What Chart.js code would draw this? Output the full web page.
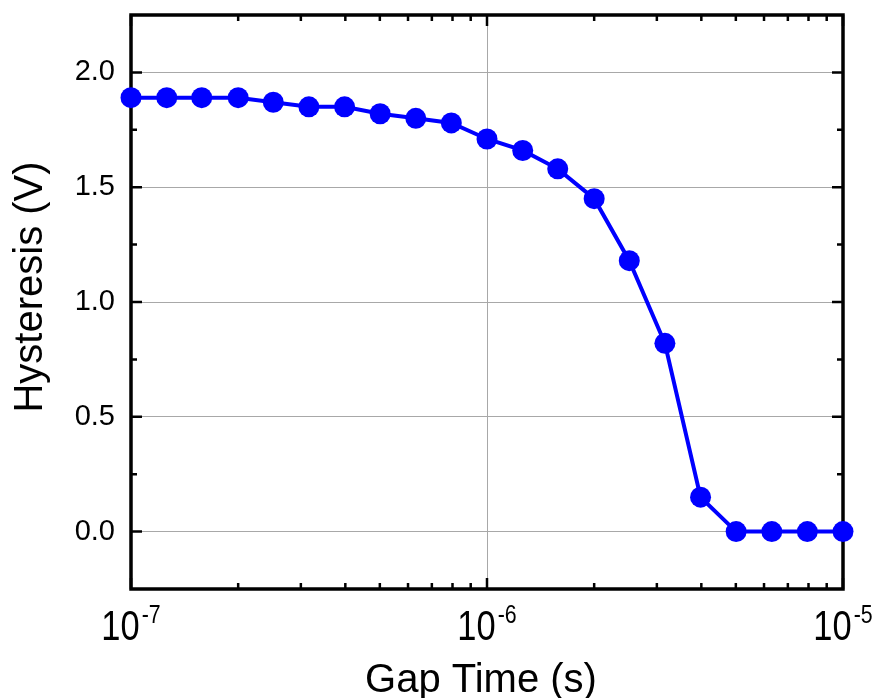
<!DOCTYPE html>
<html>
<head>
<title>Hysteresis vs Gap Time</title>
<script src="https://cdn.jsdelivr.net/npm/chart.js"></script>
<style>
  body { margin: 0; background: #fff; }
  #wrap { width: 882px; height: 698px; }
</style>
</head>
<body>
<div id="wrap"><canvas id="chart" width="882" height="698"></canvas></div>
<script>
// measured hysteresis (V) against gap time (s), ten points per decade
const gapTime = [1.0e-7, 1.26e-7, 1.58e-7, 2.0e-7, 2.51e-7, 3.16e-7, 3.98e-7, 5.01e-7, 6.31e-7, 7.94e-7,
                 1.0e-6, 1.26e-6, 1.58e-6, 2.0e-6, 2.51e-6, 3.16e-6, 3.98e-6, 5.01e-6, 6.31e-6, 7.94e-6, 1.0e-5];
const hysteresis = [1.89, 1.89, 1.89, 1.89, 1.87, 1.85, 1.85, 1.82, 1.80, 1.78,
                    1.71, 1.66, 1.58, 1.45, 1.18, 0.82, 0.15, 0, 0, 0, 0];

const yTicks = [0, 0.5, 1.0, 1.5, 2.0];
const yMinorTicks = [0.25, 0.75, 1.25, 1.75];
const xTicks = [1e-7, 1e-6, 1e-5];
const xExponents = ['-7', '-6', '-5'];
const xMinorMantissa = [2, 3, 4, 5, 6, 7, 8, 9];
const xDecades = [1e-7, 1e-6];

const FONT = "'Liberation Sans', Arial, sans-serif";

// box frame with inward ticks, drawn under the data points
const framePlugin = {
  id: 'frame',
  beforeDatasetsDraw(chart) {
    const ctx = chart.ctx;
    const a = chart.chartArea;
    const x = chart.scales.x, y = chart.scales.y;
    ctx.save();
    ctx.strokeStyle = '#000';
    ctx.lineWidth = 2.5;
    ctx.beginPath();
    yTicks.forEach(v => {
      const py = y.getPixelForValue(v);
      ctx.moveTo(a.left, py); ctx.lineTo(a.left + 11, py);
      ctx.moveTo(a.right, py); ctx.lineTo(a.right - 11, py);
    });
    yMinorTicks.forEach(v => {
      const py = y.getPixelForValue(v);
      ctx.moveTo(a.left, py); ctx.lineTo(a.left + 6, py);
      ctx.moveTo(a.right, py); ctx.lineTo(a.right - 6, py);
    });
    xTicks.forEach(v => {
      const px = x.getPixelForValue(v);
      ctx.moveTo(px, a.top); ctx.lineTo(px, a.top + 11);
      ctx.moveTo(px, a.bottom); ctx.lineTo(px, a.bottom - 11);
    });
    xDecades.forEach(d => {
      xMinorMantissa.forEach(m => {
        const px = x.getPixelForValue(m * d);
        ctx.moveTo(px, a.top); ctx.lineTo(px, a.top + 6);
        ctx.moveTo(px, a.bottom); ctx.lineTo(px, a.bottom - 6);
      });
    });
    ctx.stroke();
    ctx.lineWidth = 3.5;
    ctx.strokeRect(a.left, a.top, a.right - a.left, a.bottom - a.top);
    ctx.restore();
  },
  afterDraw(chart) {
    const ctx = chart.ctx;
    const x = chart.scales.x;
    ctx.save();
    ctx.fillStyle = '#000';
    // power-of-ten labels, narrow face
    const sx = 0.82;
    xTicks.forEach((v, i) => {
      const px = x.getPixelForValue(v);
      ctx.font = '42px ' + FONT;
      const wBase = ctx.measureText('10').width * sx;
      ctx.font = '26px ' + FONT;
      const wExp = ctx.measureText(xExponents[i]).width * sx;
      const gap = 2;
      const left = px - (wBase + gap + wExp) / 2;
      ctx.save();
      ctx.translate(left, 640);
      ctx.scale(sx, 1);
      ctx.textAlign = 'left';
      ctx.textBaseline = 'alphabetic';
      ctx.font = '42px ' + FONT;
      ctx.fillText('10', 0, 0);
      ctx.restore();
      ctx.save();
      ctx.translate(left + wBase + gap, 623);
      ctx.scale(sx, 1);
      ctx.font = '26px ' + FONT;
      ctx.fillText(xExponents[i], 0, 0);
      ctx.restore();
    });
    // axis titles
    ctx.font = '40px ' + FONT;
    ctx.textAlign = 'center';
    ctx.textBaseline = 'alphabetic';
    ctx.fillText('Gap Time (s)', 481, 692);
    ctx.save();
    ctx.translate(42, 287);
    ctx.rotate(-Math.PI / 2);
    ctx.fillText('Hysteresis (V)', 0, 0);
    ctx.restore();
    ctx.restore();
  }
};

const chart = new Chart(document.getElementById('chart'), {
  type: 'line',
  data: {
    datasets: [{
      data: gapTime.map((t, i) => ({ x: t, y: hysteresis[i] })),
      borderColor: '#0000ff',
      backgroundColor: '#0000ff',
      borderWidth: 4,
      pointRadius: 10.5,
      pointBorderWidth: 0,
      pointBackgroundColor: '#0000ff',
      pointHoverRadius: 10.5,
      tension: 0,
      clip: false
    }]
  },
  options: {
    responsive: false,
    animation: false,
    events: [],
    layout: { padding: { top: 15, right: 39, left: 0, bottom: 0 } },
    plugins: { legend: { display: false }, tooltip: { enabled: false } },
    scales: {
      x: {
        type: 'logarithmic',
        min: 1e-7,
        max: 1e-5,
        afterBuildTicks: s => { s.ticks = xTicks.map(v => ({ value: v, major: true })); },
        afterFit: s => { s.height = 109; s.paddingLeft = 0; s.paddingRight = 0; },
        ticks: { display: false },
        grid: { color: '#a8a8a8', lineWidth: 1, drawTicks: false },
        border: { display: false }
      },
      y: {
        type: 'linear',
        min: -0.25,
        max: 2.25,
        afterBuildTicks: s => { s.ticks = yTicks.map(v => ({ value: v })); },
        afterFit: s => { s.width = 131; s.paddingTop = 0; s.paddingBottom = 0; },
        ticks: {
          color: '#000',
          padding: 16,
          font: { family: FONT, size: 29 },
          callback: v => v.toFixed(1)
        },
        grid: { color: '#a8a8a8', lineWidth: 1, drawTicks: false },
        border: { display: false }
      }
    }
  },
  plugins: [framePlugin]
});
</script>
</body>
</html>
